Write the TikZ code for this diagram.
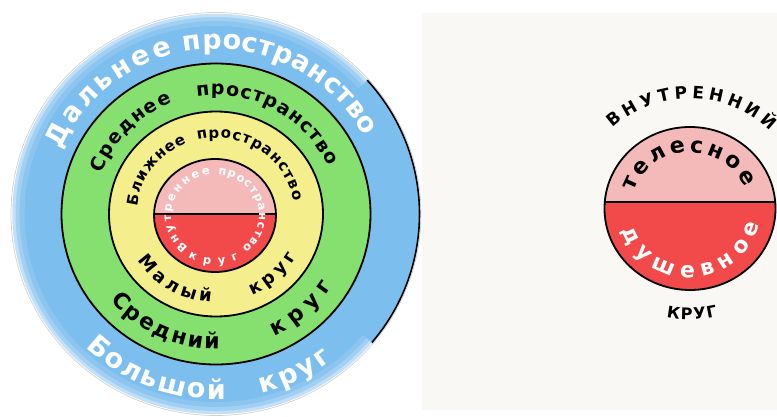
\documentclass[tikz,border=0pt]{standalone}
\usepackage{fontspec}
\newfontfamily\dv{DejaVu Sans}
\usetikzlibrary{decorations.text}
\definecolor{ringblue}{RGB}{124,190,238}
\definecolor{ringgreen}{RGB}{134,224,112}
\definecolor{ringyellow}{RGB}{245,238,140}
\definecolor{softpink}{RGB}{244,186,186}
\definecolor{hotred}{RGB}{242,74,74}
\definecolor{panel}{RGB}{250,248,245}
\newcommand\arctext[8]{%
  \path[decorate, decoration={text along path, text align=fit to path, text color=#6,
    text={|\dv\bfseries\fontsize{#7}{#7}\selectfont|#8}}]
    (#1) ++(#2:#4 and #5) arc[start angle=#2, end angle=#3, x radius=#4, y radius=#5];}
\newcommand\halo[3]{%
  \draw[white, opacity=#3, line width=#1pt] (L) ++(42:{203.5-#2} and {200-#2}) arc[start angle=42, end angle=320, x radius={203.5-#2}, y radius={200-#2}];}
\tikzset{ring/.style={draw=black, line width=1.8pt}}
\begin{document}
\begin{tikzpicture}[x=1pt,y=1pt]
\useasboundingbox (0,0) rectangle (777,416);
\fill[white] (0,0) rectangle (777,416);
\fill[panel] (422,6) rectangle (777,403);
\coordinate (L) at (216,202);
\coordinate (I) at (215,200.5);
\coordinate (R) at (690,207.5);
% outer blue disc
\draw[gray!35, line width=0.7pt] (L) ellipse[x radius=205, y radius=201.5];
\fill[ringblue] (L) ellipse[x radius=203.5, y radius=200];
\halo{12}{6}{0.12}
\halo{7}{3.5}{0.2}
\halo{3}{1.5}{0.35}
\draw[black, line width=1.6pt] (L) ++(-40:203.5 and 200) arc[start angle=-40, end angle=42, x radius=203.5, y radius=200];
% green, yellow
\fill[ringgreen] (L) ellipse[x radius=154.5, y radius=150.5];
\draw[ring] (L) ellipse[x radius=154.5, y radius=150.5];
\fill[ringyellow] (L) ellipse[x radius=107, y radius=102.5];
\draw[ring] (L) ellipse[x radius=107, y radius=102.5];
% inner split circle
\fill[softpink] (I) ellipse[x radius=61, y radius=56.5];
\begin{scope}
  \clip (I) ellipse[x radius=61, y radius=56.5];
  \fill[hotred] (150,202) rectangle (280,140);
\end{scope}
\draw[black, line width=1.3pt] (153,202) -- (277,202);
\draw[ring] (I) ellipse[x radius=61, y radius=56.5];
% texts left
\arctext{L}{157}{105}{168}{165}{white}{27}{Дальнее}
\arctext{L}{101}{28}{168}{165}{white}{27}{пространство}
\arctext{L}{160}{111}{122}{119}{black}{19}{Среднее}
\arctext{L}{99}{23.5}{122}{119}{black}{19}{пространство}
\arctext{L}{220}{271.5}{138}{135}{black}{22}{Средний}
\arctext{L}{295}{327.5}{138}{135}{black}{22}{круг}
\arctext{L}{174}{112}{79}{76}{black}{15}{Ближнее}
\arctext{L}{103.5}{9.5}{79}{76}{black}{15}{пространство}
\arctext{L}{212}{267}{92}{88}{black}{18}{Малый}
\arctext{L}{293}{331}{92}{88}{black}{18}{круг}
\arctext{I}{232}{96}{44}{41}{white}{11.5}{Внутреннее}
\arctext{I}{86}{-52}{44}{41}{white}{11.5}{пространство}
\arctext{I}{239}{297}{52}{49}{white}{11.5}{круг}
\arctext{L}{226}{273}{188}{185}{white}{27}{Большой}
\arctext{L}{284}{308}{188}{185}{white}{27}{круг}
% right diagram
\fill[softpink] (R) ellipse[x radius=85.5, y radius=81.5];
\begin{scope}
  \clip (R) ellipse[x radius=85.5, y radius=81.5];
  \fill[hotred] (600,214) rectangle (780,120);
\end{scope}
\draw[black, line width=1.5pt] (604.5,214) -- (775.5,214);
\draw[ring] (R) ellipse[x radius=85.5, y radius=81.5];
\arctext{R}{133}{45}{113}{110}{black}{17}{ВНУТРЕННИЙ}
\arctext{R}{163}{22}{59}{56}{black}{22}{телесное}
\arctext{R}{198}{347}{71}{69}{white}{22}{душевное}
\arctext{R}{258}{284}{114}{111}{black}{16}{КРУГ}
\end{tikzpicture}
\end{document}
